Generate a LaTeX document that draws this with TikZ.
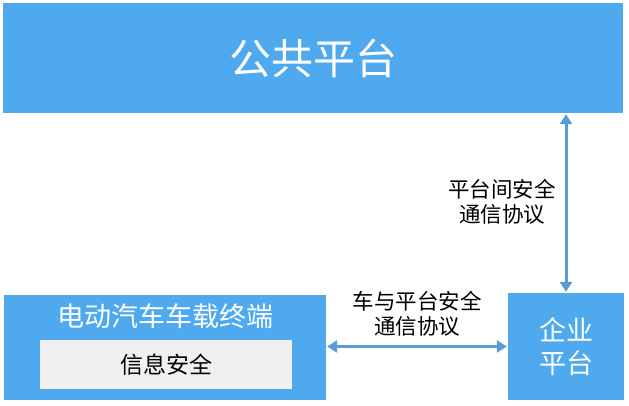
\documentclass[tikz,border=0pt]{standalone}
\usepackage{fontspec}
\setmainfont{Noto Sans CJK SC}
\usetikzlibrary{arrows.meta}
\definecolor{myblue}{HTML}{4FA9EE}
\definecolor{myarrow}{HTML}{5B9BD5}
\definecolor{mygray}{HTML}{F0F0F0}

\begin{document}
\begin{tikzpicture}[x=1pt, y=-1pt,
    bluebox/.style={fill=myblue, draw=none, text=white, inner sep=0pt},
    link/.style={myarrow, line width=3pt, {Triangle[width=12pt,length=10pt]}-{Triangle[width=12pt,length=10pt]}},
    note/.style={font=\fontsize{21.5}{25}\selectfont, align=center, inner sep=0pt}]
    \useasboundingbox (0,0) rectangle (629,406);
    \node[bluebox, minimum width=620, minimum height=110, font=\fontsize{42}{50}\selectfont] (public) at (313,58) {公共平台};
    \node[bluebox, minimum width=322, minimum height=105] (car) at (165,347.5) {};
    \node[text=white, font=\fontsize{27}{30}\selectfont] (cartitle) at (165,316) {电动汽车车载终端};
    \node[fill=mygray, minimum width=252, minimum height=49, inner sep=0pt, font=\fontsize{23}{28}\selectfont] (infosec) at (166,364.5) {信息安全};
    \node[bluebox, minimum width=116, minimum height=107, align=center, font=\fontsize{27}{33}\selectfont] (ent) at (566,346.5) {企业\\平台};
    \draw[link, shorten <=1pt, shorten >=1pt] (ent.north |- public.south) -- (ent.north);
    \draw[link, shorten <=1pt, shorten >=1pt] (car.east |- ent) -- (ent.west);
    \node[note] (p2p) at (502,202) {平台间安全\\通信协议};
    \node[note] (v2p) at (417,314) {车与平台安全\\通信协议};
\end{tikzpicture}
\end{document}
